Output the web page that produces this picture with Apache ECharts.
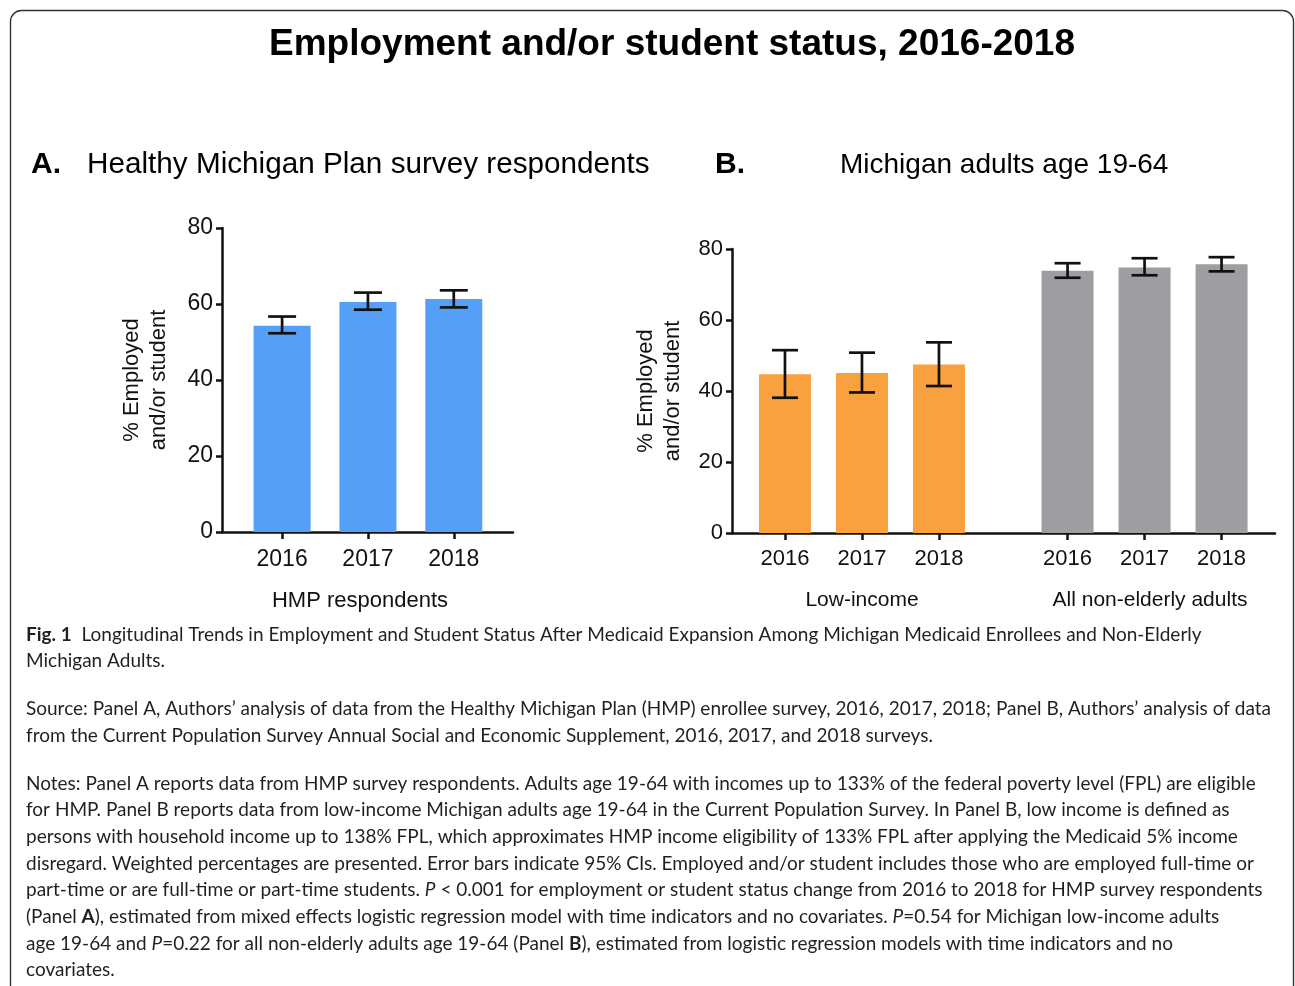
<!DOCTYPE html>
<html>
<head>
<meta charset="utf-8">
<script src="https://cdn.jsdelivr.net/npm/echarts@6/dist/echarts.min.js"></script>
<style>
  html, body { margin: 0; padding: 0; background: #fff; }
  #chart { width: 1295px; height: 986px; }
</style>
</head>
<body>
<div id="chart"></div>
<script>
// ---------- data ----------
const years = ['2016', '2017', '2018'];
// Panel A: HMP respondents
const hmpValues = [54.3, 60.5, 61.3];
const hmpLow    = [52.3, 58.5, 59.1];
const hmpHigh   = [56.7, 63.0, 63.6];
// Panel B: Low-income Michigan adults
const lowIncValues = [44.7, 45.1, 47.5];
const lowIncLow    = [38.1, 39.6, 41.4];
const lowIncHigh   = [51.5, 50.8, 53.7];
// Panel B: All non-elderly adults
const allValues = [73.9, 74.8, 75.7];
const allLow    = [71.9, 72.6, 73.7];
const allHigh   = [76.0, 77.4, 77.7];
const yTicks = [0, 20, 40, 60, 80];

// ---------- layout helpers ----------
const FONT = '"Liberation Sans", Arial, sans-serif';
const CAP_FONT = 'Lato, "Open Sans", sans-serif';
const GROUP_B_OFFSET = 3.67; // category slot offset for second group in panel B

const posA = years.map((y, i) => i + 1);
const posB1 = years.map((y, i) => i + 1);
const posB2 = years.map((y, i) => i + 1 + GROUP_B_OFFSET);

function barData(pos, vals) { return pos.map((p, i) => [p, vals[i]]); }
function errData(pos, lo, hi) { return pos.map((p, i) => [p, lo[i], hi[i]]); }

function errSeries(xi, data, capHalf) {
  return {
    type: 'custom', xAxisIndex: xi, yAxisIndex: xi, data: data, z: 5,
    encode: { x: 0, y: [1, 2] },
    renderItem: function (params, api) {
      const x = api.value(0);
      const lo = api.coord([x, api.value(1)]);
      const hi = api.coord([x, api.value(2)]);
      const st = { stroke: '#111', lineWidth: 2.7 };
      return {
        type: 'group',
        children: [
          { type: 'line', shape: { x1: lo[0], y1: lo[1], x2: hi[0], y2: hi[1] }, style: st },
          { type: 'line', shape: { x1: hi[0] - capHalf, y1: hi[1], x2: hi[0] + capHalf, y2: hi[1] }, style: st },
          { type: 'line', shape: { x1: lo[0] - capHalf, y1: lo[1], x2: lo[0] + capHalf, y2: lo[1] }, style: st }
        ]
      };
    }
  };
}

function yAxisDef(gi, fs, gap) {
  return {
    type: 'value', gridIndex: gi, min: 0, max: 80, interval: 20,
    splitLine: { show: false },
    axisLine: { show: true, lineStyle: { color: '#111', width: 2.5 } },
    axisTick: { show: true, length: 6, lineStyle: { color: '#111', width: 2.5 } },
    axisLabel: { fontFamily: FONT, fontSize: fs, color: '#111', margin: 9,
      formatter: v => (yTicks.indexOf(v) >= 0 ? String(v) : '') },
    name: '% Employed\nand/or student', nameLocation: 'middle', nameRotate: 90, nameGap: gap,
    nameTextStyle: { fontFamily: FONT, fontSize: 22, color: '#111', lineHeight: 27, align: 'center' }
  };
}

const labelB = {};
posB1.forEach((p, i) => labelB[p] = years[i]);
posB2.forEach((p, i) => labelB[p.toFixed(2)] = years[i]);

const captionLines = [
  ['{b|Fig. 1}  Longitudinal Trends in Employment and Student Status After Medicaid Expansion Among Michigan Medicaid Enrollees and Non-Elderly', 635],
  ['Michigan Adults.', 661],
  ['Source: Panel A, Authors’ analysis of data from the Healthy Michigan Plan (HMP) enrollee survey, 2016, 2017, 2018; Panel B, Authors’ analysis of data', 709],
  ['from the Current Population Survey Annual Social and Economic Supplement, 2016, 2017, and 2018 surveys.', 736],
  ['Notes: Panel A reports data from HMP survey respondents. Adults age 19-64 with incomes up to 133% of the federal poverty level (FPL) are eligible', 784],
  ['for HMP. Panel B reports data from low-income Michigan adults age 19-64 in the Current Population Survey. In Panel B, low income is defined as', 810],
  ['persons with household income up to 138% FPL, which approximates HMP income eligibility of 133% FPL after applying the Medicaid 5% income', 837],
  ['disregard. Weighted percentages are presented. Error bars indicate 95% CIs. Employed and/or student includes those who are employed full-time or', 864],
  ['part-time or are full-time or part-time students. {i|P} < 0.001 for employment or student status change from 2016 to 2018 for HMP survey respondents', 890],
  ['(Panel {b|A}), estimated from mixed effects logistic regression model with time indicators and no covariates. {i|P}=0.54 for Michigan low-income adults', 917],
  ['age 19-64 and {i|P}=0.22 for all non-elderly adults age 19-64 (Panel {b|B}), estimated from logistic regression models with time indicators and no', 944],
  ['covariates.', 970]
];

const capRich = {
  b: { fontFamily: CAP_FONT, fontSize: 19, fontWeight: 'bold', fill: '#231f20' },
  i: { fontFamily: CAP_FONT, fontSize: 19, fontStyle: 'italic', fill: '#231f20' }
};

const graphics = [
  { type: 'rect', shape: { x: 10.5, y: 10.5, width: 1283, height: 1000, r: 11 },
    style: { fill: 'none', stroke: '#333', lineWidth: 1.4 }, silent: true },
  { type: 'text', x: 672, y: 45, style: { text: 'Employment and/or student status, 2016-2018',
      font: 'bold 37px ' + FONT, fill: '#000', textAlign: 'center', textVerticalAlign: 'middle' } },
  { type: 'text', x: 31, y: 165, style: { text: 'A.', font: 'bold 30px ' + FONT, fill: '#000',
      textAlign: 'left', textVerticalAlign: 'middle' } },
  { type: 'text', x: 87, y: 165, style: { text: 'Healthy Michigan Plan survey respondents', font: '29.7px ' + FONT, fill: '#000',
      textAlign: 'left', textVerticalAlign: 'middle' } },
  { type: 'text', x: 715, y: 165, style: { text: 'B.', font: 'bold 30px ' + FONT, fill: '#000',
      textAlign: 'left', textVerticalAlign: 'middle' } },
  { type: 'text', x: 840, y: 165, style: { text: 'Michigan adults age 19-64', font: '28px ' + FONT, fill: '#000',
      textAlign: 'left', textVerticalAlign: 'middle' } },
  { type: 'text', x: 360, y: 601, style: { text: 'HMP respondents', font: '22px ' + FONT, fill: '#111',
      textAlign: 'center', textVerticalAlign: 'middle' } },
  { type: 'text', x: 862, y: 600, style: { text: 'Low-income', font: '21px ' + FONT, fill: '#111',
      textAlign: 'center', textVerticalAlign: 'middle' } },
  { type: 'text', x: 1150, y: 600, style: { text: 'All non-elderly adults', font: '21px ' + FONT, fill: '#111',
      textAlign: 'center', textVerticalAlign: 'middle' } }
];
captionLines.forEach(([t, y]) => {
  graphics.push({ type: 'text', x: 26, y: y, style: { text: t, fontFamily: CAP_FONT, fontSize: 19,
    fill: '#231f20', textAlign: 'left', textVerticalAlign: 'middle', rich: capRich } });
});

const option = {
  backgroundColor: '#fff',
  animation: false,
  grid: [
    { left: 222, top: 228, width: 291, height: 304 },
    { left: 732, top: 249, width: 543, height: 284 }
  ],
  xAxis: [
    { type: 'value', gridIndex: 0, min: 0.3, max: 3.69, splitLine: { show: false },
      axisLine: { show: true, onZero: false, lineStyle: { color: '#111', width: 2.5 } },
      axisTick: { show: true, length: 7, customValues: posA, lineStyle: { color: '#111', width: 2.5 } },
      axisLabel: { customValues: posA, formatter: v => years[Math.round(v) - 1], fontFamily: FONT,
        fontSize: 23, color: '#111', margin: 16 } },
    { type: 'value', gridIndex: 1, min: 0.312, max: 7.364, splitLine: { show: false },
      axisLine: { show: true, onZero: false, lineStyle: { color: '#111', width: 2.5 } },
      axisTick: { show: true, length: 7, customValues: posB1.concat(posB2), lineStyle: { color: '#111', width: 2.5 } },
      axisLabel: { customValues: posB1.concat(posB2),
        formatter: v => { const k = Math.round(v * 100) / 100; return labelB[k] || labelB[k.toFixed(2)] || ''; },
        fontFamily: FONT, fontSize: 22, color: '#111', margin: 15 } }
  ],
  yAxis: [ yAxisDef(0, 23, 50), yAxisDef(1, 22, 46) ],
  series: [
    { type: 'bar', xAxisIndex: 0, yAxisIndex: 0, data: barData(posA, hmpValues), barWidth: 57,
      itemStyle: { color: '#569ff7' } },
    errSeries(0, errData(posA, hmpLow, hmpHigh), 14),
    { type: 'bar', xAxisIndex: 1, yAxisIndex: 1, data: barData(posB1, lowIncValues), barWidth: 52,
      itemStyle: { color: '#f9a03f' } },
    errSeries(1, errData(posB1, lowIncLow, lowIncHigh), 13),
    { type: 'bar', xAxisIndex: 1, yAxisIndex: 1, data: barData(posB2, allValues), barWidth: 52, barGap: '-100%',
      itemStyle: { color: '#9e9da2' } },
    errSeries(1, errData(posB2, allLow, allHigh), 13)
  ],
  graphic: graphics
};

const chart = echarts.init(document.getElementById('chart'), null, { renderer: 'canvas' });
chart.setOption(option);
</script>
</body>
</html>
